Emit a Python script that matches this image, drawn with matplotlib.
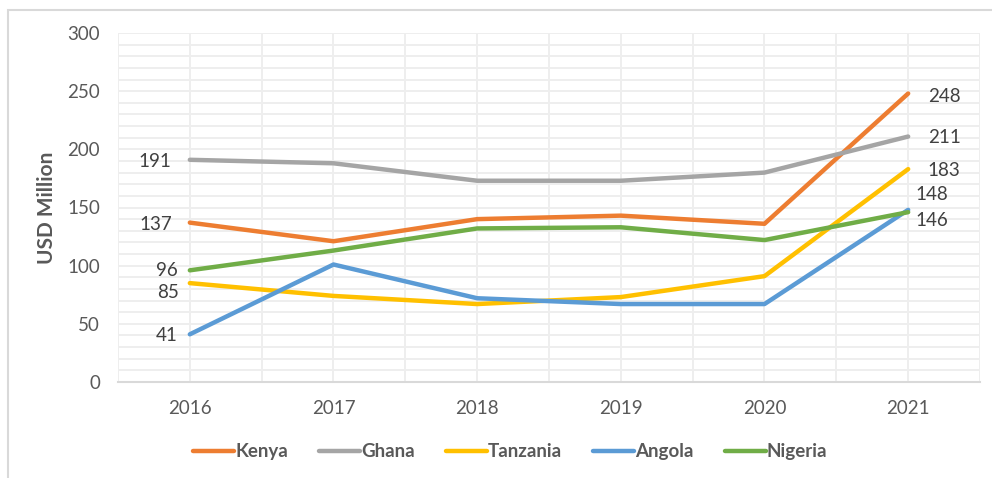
import matplotlib
matplotlib.use("Agg")
import matplotlib.pyplot as plt
from matplotlib.patches import Rectangle

plt.rcParams["font.family"] = ["Lato", "DejaVu Sans"]

# ==========================================================
# DATA
# ==========================================================

years = ["2016", "2017", "2018", "2019", "2020", "2021"]

kenya = [137, 121, 140, 143, 136, 248]
ghana = [191, 188, 173, 173, 180, 211]
tanzania = [85, 74, 67, 73, 91, 183]
angola = [41, 101, 72, 67, 67, 148]
nigeria = [96, 113, 132, 133, 122, 146]

series_names = ["Kenya", "Ghana", "Tanzania", "Angola", "Nigeria"]
series_values = [kenya, ghana, tanzania, angola, nigeria]
series_colors = ["#ED7D31", "#A5A5A5", "#FFC000", "#5B9BD5", "#70AD47"]

# label offsets in points (dx, dy) for first / last values
first_offsets = [(-13, -1), (-13, -1), (-8, -7), (-9, -1), (-9, 0)]
last_offsets = [(14, -2), (14, -1), (14, -1), (5, 11), (5, -6)]

# ==========================================================
# FIGURE
# ==========================================================

fig = plt.figure(figsize=(9.92, 4.78), dpi=100)

# outer frame (only left / top visible)
fig.patches.append(Rectangle(
    (8 / 992, -0.1), 1.2, 1.1 - 10 / 478,
    transform=fig.transFigure, fill=False,
    edgecolor="#d9d9d9", linewidth=1.5
))

ax = fig.add_axes([118 / 992, 1 - 382 / 478, (980 - 118) / 992, (382 - 33) / 478])

x = list(range(len(years)))

for name, vals, color, fo, lo in zip(series_names, series_values, series_colors,
                                     first_offsets, last_offsets):
    ax.plot(x, vals, color=color, linewidth=3.2, label=name,
            solid_capstyle="round", solid_joinstyle="round", zorder=3)
    ax.annotate(str(vals[0]), (x[0], vals[0]), xytext=fo,
                textcoords="offset points", ha="right", va="center",
                fontsize=13.5, color="#404040")
    ax.annotate(str(vals[-1]), (x[-1], vals[-1]), xytext=lo,
                textcoords="offset points", ha="left", va="center",
                fontsize=13.5, color="#404040")

ax.set_xlim(-0.5, len(years) - 0.5)
ax.set_ylim(0, 300)

ax.set_xticks(x)
ax.set_xticklabels(years)
ax.set_yticks(range(0, 301, 50))

# grid: every 10 units horizontally, categories + boundaries vertically
for yv in range(10, 301, 10):
    ax.axhline(yv, color="#eeeeee", linewidth=1.4, zorder=1)
for xv in [i * 0.5 - 0.5 for i in range(2 * len(years) + 1)]:
    ax.axvline(xv, color="#eeeeee", linewidth=1.4, zorder=1)

for side in ["top", "right", "left"]:
    ax.spines[side].set_visible(False)
ax.spines["bottom"].set_color("#d9d9d9")
ax.spines["bottom"].set_linewidth(1.5)

ax.tick_params(axis="both", length=0, labelsize=13.5, labelcolor="#595959")
ax.tick_params(axis="x", pad=13)
ax.tick_params(axis="y", pad=13)

ax.set_ylabel("USD Million", fontsize=15, fontweight="bold", color="#595959", labelpad=7)

leg = ax.legend(loc="center", bbox_to_anchor=(0.455, -0.2), ncol=5,
                frameon=False, handlelength=2.2, handletextpad=0.05,
                columnspacing=1.65,
                prop={"size": 13.5, "weight": "bold"})
for t in leg.get_texts():
    t.set_color("#595959")

fig.savefig("out.png", dpi=100)
